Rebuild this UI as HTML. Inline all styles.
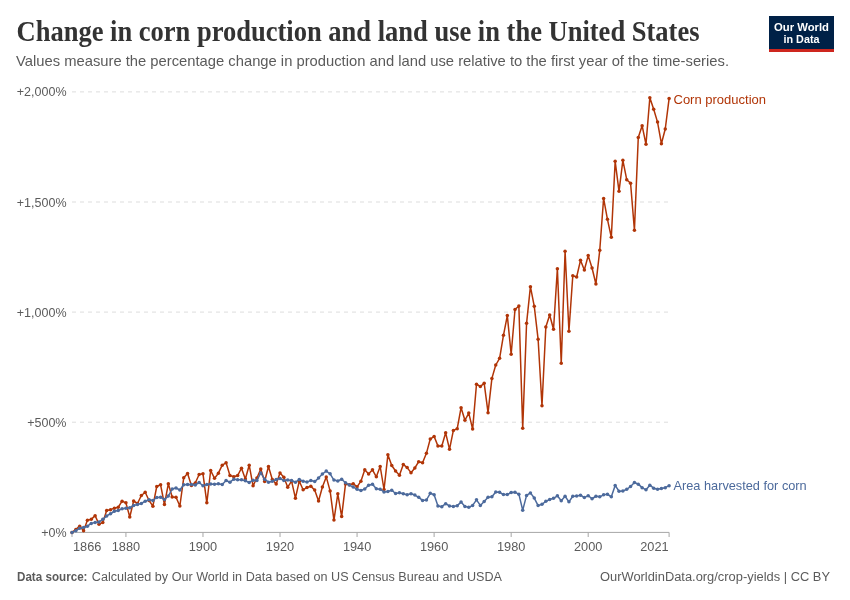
<!DOCTYPE html>
<html><head><meta charset="utf-8">
<style>
html,body{margin:0;padding:0;background:#fff;}
body{width:850px;height:600px;overflow:hidden;}
svg{display:block;will-change:transform;}
text{font-family:"Liberation Sans",sans-serif;}
.title{font-family:"Liberation Serif",serif;font-weight:bold;font-size:29px;fill:#333333;}
.sub{font-size:14.5px;fill:#5b5b5b;}
.ax{font-size:12.5px;fill:#5b5b5b;}
.axx{font-size:12.75px;fill:#5b5b5b;}
.ft{font-size:12.5px;fill:#5b5b5b;}
.lg{font-size:13px;}
.logo{font-weight:bold;font-size:11.5px;fill:#fff;}
</style></head>
<body>
<svg width="850" height="600" viewBox="0 0 850 600">

<text x="16.5" y="40.6" class="title" textLength="683" lengthAdjust="spacingAndGlyphs">Change in corn production and land use in the United States</text>
<text x="16" y="66.3" class="sub" textLength="713" lengthAdjust="spacingAndGlyphs">Values measure the percentage change in production and land use relative to the first year of the time-series.</text>
<rect x="769" y="16" width="65" height="33" fill="#002147"/>
<rect x="769" y="49" width="65" height="3" fill="#ce261e"/>
<text x="801.5" y="30.5" text-anchor="middle" class="logo" textLength="55" lengthAdjust="spacingAndGlyphs">Our World</text>
<text x="801.5" y="42.5" text-anchor="middle" class="logo" textLength="36" lengthAdjust="spacingAndGlyphs">in Data</text>
<line x1="72" y1="91.9" x2="669" y2="91.9" stroke="#dddddd" stroke-width="1" stroke-dasharray="4,4"/><line x1="72" y1="202.0" x2="669" y2="202.0" stroke="#dddddd" stroke-width="1" stroke-dasharray="4,4"/><line x1="72" y1="312.1" x2="669" y2="312.1" stroke="#dddddd" stroke-width="1" stroke-dasharray="4,4"/><line x1="72" y1="422.2" x2="669" y2="422.2" stroke="#dddddd" stroke-width="1" stroke-dasharray="4,4"/>
<text x="66.5" y="96.4" text-anchor="end" class="ax">+2,000%</text><text x="66.5" y="206.5" text-anchor="end" class="ax">+1,500%</text><text x="66.5" y="316.6" text-anchor="end" class="ax">+1,000%</text><text x="66.5" y="426.7" text-anchor="end" class="ax">+500%</text><text x="66.5" y="536.9" text-anchor="end" class="ax">+0%</text>
<line x1="72" y1="532.4" x2="669.1" y2="532.4" stroke="#a6a6a6" stroke-width="1"/>
<line x1="72.00" y1="532.4" x2="72.00" y2="537" stroke="#a6a6a6" stroke-width="1"/><text x="73" y="550.5" class="axx">1866</text><line x1="125.93" y1="532.4" x2="125.93" y2="537" stroke="#a6a6a6" stroke-width="1"/><text x="125.93" y="550.5" text-anchor="middle" class="axx">1880</text><line x1="202.98" y1="532.4" x2="202.98" y2="537" stroke="#a6a6a6" stroke-width="1"/><text x="202.98" y="550.5" text-anchor="middle" class="axx">1900</text><line x1="280.02" y1="532.4" x2="280.02" y2="537" stroke="#a6a6a6" stroke-width="1"/><text x="280.02" y="550.5" text-anchor="middle" class="axx">1920</text><line x1="357.07" y1="532.4" x2="357.07" y2="537" stroke="#a6a6a6" stroke-width="1"/><text x="357.07" y="550.5" text-anchor="middle" class="axx">1940</text><line x1="434.11" y1="532.4" x2="434.11" y2="537" stroke="#a6a6a6" stroke-width="1"/><text x="434.11" y="550.5" text-anchor="middle" class="axx">1960</text><line x1="511.16" y1="532.4" x2="511.16" y2="537" stroke="#a6a6a6" stroke-width="1"/><text x="511.16" y="550.5" text-anchor="middle" class="axx">1980</text><line x1="588.20" y1="532.4" x2="588.20" y2="537" stroke="#a6a6a6" stroke-width="1"/><text x="588.20" y="550.5" text-anchor="middle" class="axx">2000</text><line x1="669.10" y1="532.4" x2="669.10" y2="537" stroke="#a6a6a6" stroke-width="1"/><text x="668.6" y="550.5" text-anchor="end" class="axx">2021</text>
<polyline points="72.00,532.43 75.85,529.44 79.70,526.18 83.56,530.65 87.41,520.30 91.26,519.37 95.11,515.63 98.97,524.31 102.82,522.44 106.67,510.60 110.52,509.66 114.37,508.17 118.23,507.24 122.08,501.13 125.93,502.83 129.78,517.00 133.64,501.00 137.49,503.50 141.34,495.50 145.19,492.20 149.05,500.50 152.90,506.20 156.75,486.50 160.60,484.80 164.45,504.50 168.31,483.80 172.16,497.00 176.01,497.20 179.86,506.00 183.72,477.80 187.57,473.50 191.42,485.50 195.27,483.00 199.12,474.50 202.98,473.80 206.83,502.80 210.68,470.50 214.53,478.35 218.39,473.20 222.24,465.20 226.09,462.80 229.94,475.50 233.79,476.80 237.65,475.50 241.50,468.20 245.35,479.00 249.20,465.20 253.06,485.80 256.91,478.00 260.76,469.00 264.61,481.50 268.47,466.50 272.32,479.50 276.17,484.00 280.02,473.00 283.87,477.20 287.73,487.20 291.58,481.20 295.43,498.20 299.28,481.20 303.14,489.80 306.99,487.46 310.84,486.25 314.69,490.10 318.54,501.07 322.40,487.07 326.25,476.92 330.10,490.92 333.95,520.09 337.81,493.84 341.66,516.59 345.51,483.92 349.36,484.73 353.21,483.71 357.07,486.80 360.92,481.20 364.77,469.80 368.62,474.00 372.48,469.80 376.33,476.80 380.18,466.50 384.03,489.50 387.89,454.80 391.74,465.50 395.59,471.00 399.44,475.17 403.29,464.40 407.15,467.60 411.00,472.67 414.85,468.00 418.70,461.73 422.56,462.67 426.41,453.33 430.26,439.07 434.11,436.40 437.96,446.00 441.82,446.00 445.67,432.80 449.52,449.33 453.37,430.40 457.23,428.67 461.08,407.73 464.93,420.27 468.78,413.07 472.63,429.07 476.49,384.27 480.34,386.40 484.19,383.33 488.04,412.67 491.90,378.40 495.75,365.00 499.60,358.30 503.45,335.30 507.31,315.60 511.16,354.20 515.01,309.50 518.86,306.00 522.71,428.30 526.57,323.30 530.42,286.70 534.27,306.30 538.12,339.30 541.98,405.80 545.83,327.00 549.68,315.00 553.53,329.20 557.38,268.70 561.24,363.30 565.09,251.30 568.94,331.30 572.79,275.80 576.65,277.00 580.50,260.30 584.35,270.00 588.20,255.60 592.05,268.00 595.91,284.00 599.76,250.30 603.61,198.40 607.46,219.30 611.32,237.30 615.17,161.30 619.02,191.30 622.87,160.30 626.73,179.70 630.58,183.30 634.43,230.30 638.28,137.40 642.13,125.70 645.99,144.30 649.84,97.70 653.69,109.30 657.54,122.10 661.40,143.70 665.25,129.00 669.10,98.60" fill="none" stroke="#b13507" stroke-width="1.5" stroke-linejoin="round"/>
<g fill="#b13507"><circle cx="72.00" cy="532.43" r="1.75"/><circle cx="75.85" cy="529.44" r="1.75"/><circle cx="79.70" cy="526.18" r="1.75"/><circle cx="83.56" cy="530.65" r="1.75"/><circle cx="87.41" cy="520.30" r="1.75"/><circle cx="91.26" cy="519.37" r="1.75"/><circle cx="95.11" cy="515.63" r="1.75"/><circle cx="98.97" cy="524.31" r="1.75"/><circle cx="102.82" cy="522.44" r="1.75"/><circle cx="106.67" cy="510.60" r="1.75"/><circle cx="110.52" cy="509.66" r="1.75"/><circle cx="114.37" cy="508.17" r="1.75"/><circle cx="118.23" cy="507.24" r="1.75"/><circle cx="122.08" cy="501.13" r="1.75"/><circle cx="125.93" cy="502.83" r="1.75"/><circle cx="129.78" cy="517.00" r="1.75"/><circle cx="133.64" cy="501.00" r="1.75"/><circle cx="137.49" cy="503.50" r="1.75"/><circle cx="141.34" cy="495.50" r="1.75"/><circle cx="145.19" cy="492.20" r="1.75"/><circle cx="149.05" cy="500.50" r="1.75"/><circle cx="152.90" cy="506.20" r="1.75"/><circle cx="156.75" cy="486.50" r="1.75"/><circle cx="160.60" cy="484.80" r="1.75"/><circle cx="164.45" cy="504.50" r="1.75"/><circle cx="168.31" cy="483.80" r="1.75"/><circle cx="172.16" cy="497.00" r="1.75"/><circle cx="176.01" cy="497.20" r="1.75"/><circle cx="179.86" cy="506.00" r="1.75"/><circle cx="183.72" cy="477.80" r="1.75"/><circle cx="187.57" cy="473.50" r="1.75"/><circle cx="191.42" cy="485.50" r="1.75"/><circle cx="195.27" cy="483.00" r="1.75"/><circle cx="199.12" cy="474.50" r="1.75"/><circle cx="202.98" cy="473.80" r="1.75"/><circle cx="206.83" cy="502.80" r="1.75"/><circle cx="210.68" cy="470.50" r="1.75"/><circle cx="214.53" cy="478.35" r="1.75"/><circle cx="218.39" cy="473.20" r="1.75"/><circle cx="222.24" cy="465.20" r="1.75"/><circle cx="226.09" cy="462.80" r="1.75"/><circle cx="229.94" cy="475.50" r="1.75"/><circle cx="233.79" cy="476.80" r="1.75"/><circle cx="237.65" cy="475.50" r="1.75"/><circle cx="241.50" cy="468.20" r="1.75"/><circle cx="245.35" cy="479.00" r="1.75"/><circle cx="249.20" cy="465.20" r="1.75"/><circle cx="253.06" cy="485.80" r="1.75"/><circle cx="256.91" cy="478.00" r="1.75"/><circle cx="260.76" cy="469.00" r="1.75"/><circle cx="264.61" cy="481.50" r="1.75"/><circle cx="268.47" cy="466.50" r="1.75"/><circle cx="272.32" cy="479.50" r="1.75"/><circle cx="276.17" cy="484.00" r="1.75"/><circle cx="280.02" cy="473.00" r="1.75"/><circle cx="283.87" cy="477.20" r="1.75"/><circle cx="287.73" cy="487.20" r="1.75"/><circle cx="291.58" cy="481.20" r="1.75"/><circle cx="295.43" cy="498.20" r="1.75"/><circle cx="299.28" cy="481.20" r="1.75"/><circle cx="303.14" cy="489.80" r="1.75"/><circle cx="306.99" cy="487.46" r="1.75"/><circle cx="310.84" cy="486.25" r="1.75"/><circle cx="314.69" cy="490.10" r="1.75"/><circle cx="318.54" cy="501.07" r="1.75"/><circle cx="322.40" cy="487.07" r="1.75"/><circle cx="326.25" cy="476.92" r="1.75"/><circle cx="330.10" cy="490.92" r="1.75"/><circle cx="333.95" cy="520.09" r="1.75"/><circle cx="337.81" cy="493.84" r="1.75"/><circle cx="341.66" cy="516.59" r="1.75"/><circle cx="345.51" cy="483.92" r="1.75"/><circle cx="349.36" cy="484.73" r="1.75"/><circle cx="353.21" cy="483.71" r="1.75"/><circle cx="357.07" cy="486.80" r="1.75"/><circle cx="360.92" cy="481.20" r="1.75"/><circle cx="364.77" cy="469.80" r="1.75"/><circle cx="368.62" cy="474.00" r="1.75"/><circle cx="372.48" cy="469.80" r="1.75"/><circle cx="376.33" cy="476.80" r="1.75"/><circle cx="380.18" cy="466.50" r="1.75"/><circle cx="384.03" cy="489.50" r="1.75"/><circle cx="387.89" cy="454.80" r="1.75"/><circle cx="391.74" cy="465.50" r="1.75"/><circle cx="395.59" cy="471.00" r="1.75"/><circle cx="399.44" cy="475.17" r="1.75"/><circle cx="403.29" cy="464.40" r="1.75"/><circle cx="407.15" cy="467.60" r="1.75"/><circle cx="411.00" cy="472.67" r="1.75"/><circle cx="414.85" cy="468.00" r="1.75"/><circle cx="418.70" cy="461.73" r="1.75"/><circle cx="422.56" cy="462.67" r="1.75"/><circle cx="426.41" cy="453.33" r="1.75"/><circle cx="430.26" cy="439.07" r="1.75"/><circle cx="434.11" cy="436.40" r="1.75"/><circle cx="437.96" cy="446.00" r="1.75"/><circle cx="441.82" cy="446.00" r="1.75"/><circle cx="445.67" cy="432.80" r="1.75"/><circle cx="449.52" cy="449.33" r="1.75"/><circle cx="453.37" cy="430.40" r="1.75"/><circle cx="457.23" cy="428.67" r="1.75"/><circle cx="461.08" cy="407.73" r="1.75"/><circle cx="464.93" cy="420.27" r="1.75"/><circle cx="468.78" cy="413.07" r="1.75"/><circle cx="472.63" cy="429.07" r="1.75"/><circle cx="476.49" cy="384.27" r="1.75"/><circle cx="480.34" cy="386.40" r="1.75"/><circle cx="484.19" cy="383.33" r="1.75"/><circle cx="488.04" cy="412.67" r="1.75"/><circle cx="491.90" cy="378.40" r="1.75"/><circle cx="495.75" cy="365.00" r="1.75"/><circle cx="499.60" cy="358.30" r="1.75"/><circle cx="503.45" cy="335.30" r="1.75"/><circle cx="507.31" cy="315.60" r="1.75"/><circle cx="511.16" cy="354.20" r="1.75"/><circle cx="515.01" cy="309.50" r="1.75"/><circle cx="518.86" cy="306.00" r="1.75"/><circle cx="522.71" cy="428.30" r="1.75"/><circle cx="526.57" cy="323.30" r="1.75"/><circle cx="530.42" cy="286.70" r="1.75"/><circle cx="534.27" cy="306.30" r="1.75"/><circle cx="538.12" cy="339.30" r="1.75"/><circle cx="541.98" cy="405.80" r="1.75"/><circle cx="545.83" cy="327.00" r="1.75"/><circle cx="549.68" cy="315.00" r="1.75"/><circle cx="553.53" cy="329.20" r="1.75"/><circle cx="557.38" cy="268.70" r="1.75"/><circle cx="561.24" cy="363.30" r="1.75"/><circle cx="565.09" cy="251.30" r="1.75"/><circle cx="568.94" cy="331.30" r="1.75"/><circle cx="572.79" cy="275.80" r="1.75"/><circle cx="576.65" cy="277.00" r="1.75"/><circle cx="580.50" cy="260.30" r="1.75"/><circle cx="584.35" cy="270.00" r="1.75"/><circle cx="588.20" cy="255.60" r="1.75"/><circle cx="592.05" cy="268.00" r="1.75"/><circle cx="595.91" cy="284.00" r="1.75"/><circle cx="599.76" cy="250.30" r="1.75"/><circle cx="603.61" cy="198.40" r="1.75"/><circle cx="607.46" cy="219.30" r="1.75"/><circle cx="611.32" cy="237.30" r="1.75"/><circle cx="615.17" cy="161.30" r="1.75"/><circle cx="619.02" cy="191.30" r="1.75"/><circle cx="622.87" cy="160.30" r="1.75"/><circle cx="626.73" cy="179.70" r="1.75"/><circle cx="630.58" cy="183.30" r="1.75"/><circle cx="634.43" cy="230.30" r="1.75"/><circle cx="638.28" cy="137.40" r="1.75"/><circle cx="642.13" cy="125.70" r="1.75"/><circle cx="645.99" cy="144.30" r="1.75"/><circle cx="649.84" cy="97.70" r="1.75"/><circle cx="653.69" cy="109.30" r="1.75"/><circle cx="657.54" cy="122.10" r="1.75"/><circle cx="661.40" cy="143.70" r="1.75"/><circle cx="665.25" cy="129.00" r="1.75"/><circle cx="669.10" cy="98.60" r="1.75"/></g>
<polyline points="72.00,532.43 75.85,530.65 79.70,528.32 83.56,527.57 87.41,526.18 91.26,523.38 95.11,522.44 98.97,521.98 102.82,519.37 106.67,515.91 110.52,513.77 114.37,511.25 118.23,510.60 122.08,508.73 125.93,508.24 129.78,507.80 133.64,505.50 137.49,504.50 141.34,503.50 145.19,501.20 149.05,499.80 152.90,500.50 156.75,497.50 160.60,497.20 164.45,499.50 168.31,496.10 172.16,489.00 176.01,488.00 179.86,490.00 183.72,484.80 187.57,484.50 191.42,484.50 195.27,485.00 199.12,482.50 202.98,485.80 206.83,484.50 210.68,484.00 214.53,484.20 218.39,483.80 222.24,484.50 226.09,480.50 229.94,482.20 233.79,479.20 237.65,479.80 241.50,479.80 245.35,480.80 249.20,482.50 253.06,480.20 256.91,480.50 260.76,472.90 264.61,479.20 268.47,482.20 272.32,481.20 276.17,479.50 280.02,478.50 283.87,480.50 287.73,480.00 291.58,480.50 295.43,482.20 299.28,479.50 303.14,481.20 306.99,482.07 310.84,480.42 314.69,481.58 318.54,478.08 322.40,474.00 326.25,471.08 330.10,473.77 333.95,480.07 337.81,481.00 341.66,479.25 345.51,482.75 349.36,485.08 353.21,487.03 357.07,489.20 360.92,490.50 364.77,489.00 368.62,485.20 372.48,484.20 376.33,488.80 380.18,489.20 384.03,492.00 387.89,491.50 391.74,490.20 395.59,493.50 399.44,492.83 403.29,493.73 407.15,494.67 411.00,493.73 414.85,495.07 418.70,497.33 422.56,500.40 426.41,500.00 430.26,493.33 434.11,494.67 437.96,506.00 441.82,506.67 445.67,503.68 449.52,506.00 453.37,506.50 457.23,505.67 461.08,502.08 464.93,506.50 468.78,507.33 472.63,505.42 476.49,499.83 480.34,505.42 484.19,501.50 488.04,497.21 491.90,496.83 495.75,492.08 499.60,492.33 503.45,494.58 507.31,494.58 511.16,492.50 515.01,492.33 518.86,494.17 522.71,510.17 526.57,495.42 530.42,492.92 534.27,498.04 538.12,505.62 541.98,504.33 545.83,501.25 549.68,499.58 553.53,498.33 557.38,495.83 561.24,500.67 565.09,496.25 568.94,501.83 572.79,496.25 576.65,496.00 580.50,495.17 584.35,497.58 588.20,495.67 592.05,498.75 595.91,496.25 599.76,496.83 603.61,494.83 607.46,494.33 611.32,496.83 615.17,485.42 619.02,491.25 622.87,491.00 626.73,489.33 630.58,486.50 634.43,482.50 638.28,484.17 642.13,487.67 645.99,489.83 649.84,485.17 653.69,488.17 657.54,489.17 661.40,488.50 665.25,487.67 669.10,485.67" fill="none" stroke="#4c6a9c" stroke-width="1.5" stroke-linejoin="round"/>
<g fill="#4c6a9c"><circle cx="72.00" cy="532.43" r="1.75"/><circle cx="75.85" cy="530.65" r="1.75"/><circle cx="79.70" cy="528.32" r="1.75"/><circle cx="83.56" cy="527.57" r="1.75"/><circle cx="87.41" cy="526.18" r="1.75"/><circle cx="91.26" cy="523.38" r="1.75"/><circle cx="95.11" cy="522.44" r="1.75"/><circle cx="98.97" cy="521.98" r="1.75"/><circle cx="102.82" cy="519.37" r="1.75"/><circle cx="106.67" cy="515.91" r="1.75"/><circle cx="110.52" cy="513.77" r="1.75"/><circle cx="114.37" cy="511.25" r="1.75"/><circle cx="118.23" cy="510.60" r="1.75"/><circle cx="122.08" cy="508.73" r="1.75"/><circle cx="125.93" cy="508.24" r="1.75"/><circle cx="129.78" cy="507.80" r="1.75"/><circle cx="133.64" cy="505.50" r="1.75"/><circle cx="137.49" cy="504.50" r="1.75"/><circle cx="141.34" cy="503.50" r="1.75"/><circle cx="145.19" cy="501.20" r="1.75"/><circle cx="149.05" cy="499.80" r="1.75"/><circle cx="152.90" cy="500.50" r="1.75"/><circle cx="156.75" cy="497.50" r="1.75"/><circle cx="160.60" cy="497.20" r="1.75"/><circle cx="164.45" cy="499.50" r="1.75"/><circle cx="168.31" cy="496.10" r="1.75"/><circle cx="172.16" cy="489.00" r="1.75"/><circle cx="176.01" cy="488.00" r="1.75"/><circle cx="179.86" cy="490.00" r="1.75"/><circle cx="183.72" cy="484.80" r="1.75"/><circle cx="187.57" cy="484.50" r="1.75"/><circle cx="191.42" cy="484.50" r="1.75"/><circle cx="195.27" cy="485.00" r="1.75"/><circle cx="199.12" cy="482.50" r="1.75"/><circle cx="202.98" cy="485.80" r="1.75"/><circle cx="206.83" cy="484.50" r="1.75"/><circle cx="210.68" cy="484.00" r="1.75"/><circle cx="214.53" cy="484.20" r="1.75"/><circle cx="218.39" cy="483.80" r="1.75"/><circle cx="222.24" cy="484.50" r="1.75"/><circle cx="226.09" cy="480.50" r="1.75"/><circle cx="229.94" cy="482.20" r="1.75"/><circle cx="233.79" cy="479.20" r="1.75"/><circle cx="237.65" cy="479.80" r="1.75"/><circle cx="241.50" cy="479.80" r="1.75"/><circle cx="245.35" cy="480.80" r="1.75"/><circle cx="249.20" cy="482.50" r="1.75"/><circle cx="253.06" cy="480.20" r="1.75"/><circle cx="256.91" cy="480.50" r="1.75"/><circle cx="260.76" cy="472.90" r="1.75"/><circle cx="264.61" cy="479.20" r="1.75"/><circle cx="268.47" cy="482.20" r="1.75"/><circle cx="272.32" cy="481.20" r="1.75"/><circle cx="276.17" cy="479.50" r="1.75"/><circle cx="280.02" cy="478.50" r="1.75"/><circle cx="283.87" cy="480.50" r="1.75"/><circle cx="287.73" cy="480.00" r="1.75"/><circle cx="291.58" cy="480.50" r="1.75"/><circle cx="295.43" cy="482.20" r="1.75"/><circle cx="299.28" cy="479.50" r="1.75"/><circle cx="303.14" cy="481.20" r="1.75"/><circle cx="306.99" cy="482.07" r="1.75"/><circle cx="310.84" cy="480.42" r="1.75"/><circle cx="314.69" cy="481.58" r="1.75"/><circle cx="318.54" cy="478.08" r="1.75"/><circle cx="322.40" cy="474.00" r="1.75"/><circle cx="326.25" cy="471.08" r="1.75"/><circle cx="330.10" cy="473.77" r="1.75"/><circle cx="333.95" cy="480.07" r="1.75"/><circle cx="337.81" cy="481.00" r="1.75"/><circle cx="341.66" cy="479.25" r="1.75"/><circle cx="345.51" cy="482.75" r="1.75"/><circle cx="349.36" cy="485.08" r="1.75"/><circle cx="353.21" cy="487.03" r="1.75"/><circle cx="357.07" cy="489.20" r="1.75"/><circle cx="360.92" cy="490.50" r="1.75"/><circle cx="364.77" cy="489.00" r="1.75"/><circle cx="368.62" cy="485.20" r="1.75"/><circle cx="372.48" cy="484.20" r="1.75"/><circle cx="376.33" cy="488.80" r="1.75"/><circle cx="380.18" cy="489.20" r="1.75"/><circle cx="384.03" cy="492.00" r="1.75"/><circle cx="387.89" cy="491.50" r="1.75"/><circle cx="391.74" cy="490.20" r="1.75"/><circle cx="395.59" cy="493.50" r="1.75"/><circle cx="399.44" cy="492.83" r="1.75"/><circle cx="403.29" cy="493.73" r="1.75"/><circle cx="407.15" cy="494.67" r="1.75"/><circle cx="411.00" cy="493.73" r="1.75"/><circle cx="414.85" cy="495.07" r="1.75"/><circle cx="418.70" cy="497.33" r="1.75"/><circle cx="422.56" cy="500.40" r="1.75"/><circle cx="426.41" cy="500.00" r="1.75"/><circle cx="430.26" cy="493.33" r="1.75"/><circle cx="434.11" cy="494.67" r="1.75"/><circle cx="437.96" cy="506.00" r="1.75"/><circle cx="441.82" cy="506.67" r="1.75"/><circle cx="445.67" cy="503.68" r="1.75"/><circle cx="449.52" cy="506.00" r="1.75"/><circle cx="453.37" cy="506.50" r="1.75"/><circle cx="457.23" cy="505.67" r="1.75"/><circle cx="461.08" cy="502.08" r="1.75"/><circle cx="464.93" cy="506.50" r="1.75"/><circle cx="468.78" cy="507.33" r="1.75"/><circle cx="472.63" cy="505.42" r="1.75"/><circle cx="476.49" cy="499.83" r="1.75"/><circle cx="480.34" cy="505.42" r="1.75"/><circle cx="484.19" cy="501.50" r="1.75"/><circle cx="488.04" cy="497.21" r="1.75"/><circle cx="491.90" cy="496.83" r="1.75"/><circle cx="495.75" cy="492.08" r="1.75"/><circle cx="499.60" cy="492.33" r="1.75"/><circle cx="503.45" cy="494.58" r="1.75"/><circle cx="507.31" cy="494.58" r="1.75"/><circle cx="511.16" cy="492.50" r="1.75"/><circle cx="515.01" cy="492.33" r="1.75"/><circle cx="518.86" cy="494.17" r="1.75"/><circle cx="522.71" cy="510.17" r="1.75"/><circle cx="526.57" cy="495.42" r="1.75"/><circle cx="530.42" cy="492.92" r="1.75"/><circle cx="534.27" cy="498.04" r="1.75"/><circle cx="538.12" cy="505.62" r="1.75"/><circle cx="541.98" cy="504.33" r="1.75"/><circle cx="545.83" cy="501.25" r="1.75"/><circle cx="549.68" cy="499.58" r="1.75"/><circle cx="553.53" cy="498.33" r="1.75"/><circle cx="557.38" cy="495.83" r="1.75"/><circle cx="561.24" cy="500.67" r="1.75"/><circle cx="565.09" cy="496.25" r="1.75"/><circle cx="568.94" cy="501.83" r="1.75"/><circle cx="572.79" cy="496.25" r="1.75"/><circle cx="576.65" cy="496.00" r="1.75"/><circle cx="580.50" cy="495.17" r="1.75"/><circle cx="584.35" cy="497.58" r="1.75"/><circle cx="588.20" cy="495.67" r="1.75"/><circle cx="592.05" cy="498.75" r="1.75"/><circle cx="595.91" cy="496.25" r="1.75"/><circle cx="599.76" cy="496.83" r="1.75"/><circle cx="603.61" cy="494.83" r="1.75"/><circle cx="607.46" cy="494.33" r="1.75"/><circle cx="611.32" cy="496.83" r="1.75"/><circle cx="615.17" cy="485.42" r="1.75"/><circle cx="619.02" cy="491.25" r="1.75"/><circle cx="622.87" cy="491.00" r="1.75"/><circle cx="626.73" cy="489.33" r="1.75"/><circle cx="630.58" cy="486.50" r="1.75"/><circle cx="634.43" cy="482.50" r="1.75"/><circle cx="638.28" cy="484.17" r="1.75"/><circle cx="642.13" cy="487.67" r="1.75"/><circle cx="645.99" cy="489.83" r="1.75"/><circle cx="649.84" cy="485.17" r="1.75"/><circle cx="653.69" cy="488.17" r="1.75"/><circle cx="657.54" cy="489.17" r="1.75"/><circle cx="661.40" cy="488.50" r="1.75"/><circle cx="665.25" cy="487.67" r="1.75"/><circle cx="669.10" cy="485.67" r="1.75"/></g>
<text x="673.5" y="103.8" class="lg" fill="#b13507">Corn production</text>
<text x="673.5" y="490.4" class="lg" fill="#4c6a9c" textLength="133.2" lengthAdjust="spacingAndGlyphs">Area harvested for corn</text>
<text x="17" y="581" class="ft" font-weight="bold" textLength="70.5" lengthAdjust="spacingAndGlyphs">Data source:</text><text x="91.8" y="581" class="ft" textLength="410.2" lengthAdjust="spacingAndGlyphs">Calculated by Our World in Data based on US Census Bureau and USDA</text>
<text x="600" y="581" class="ft" textLength="230" lengthAdjust="spacingAndGlyphs">OurWorldinData.org/crop-yields | CC BY</text>
</svg>
</body></html>
